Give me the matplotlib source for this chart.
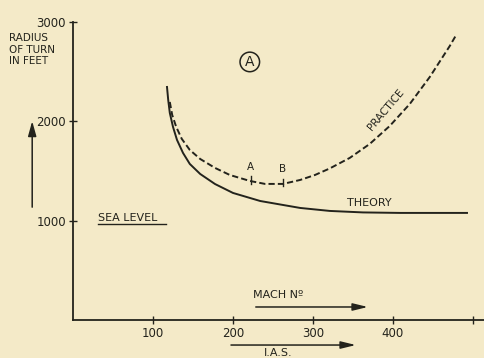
import matplotlib.pyplot as plt

# (x = I.A.S., y = radius of turn in feet)
theory_x = [117.5, 119, 121, 125, 130, 137.5, 146, 159, 177.5, 200, 234, 262.5, 284, 321, 362.5, 409, 492.5]
theory_y = [2346, 2216, 2085, 1944, 1813, 1682, 1571, 1470, 1369, 1279, 1198, 1158, 1128, 1098, 1083, 1078, 1078]

practice_x = [121, 124, 129, 136, 146, 159, 177.5, 196, 221, 240, 262.5, 284, 302.5, 321,
              346, 371, 396, 421, 446, 471, 479]
practice_y = [2195, 2064, 1944, 1823, 1712, 1621, 1531, 1460, 1400, 1370, 1370, 1410, 1460, 1526,
              1632, 1773, 1954, 2175, 2447, 2759, 2870]

points = ['A', 'B']
points_x = [222, 262]
points_y = [1398, 1370]

x_ticks = [100, 200, 300, 400, 500]
x_labels = ['100', '200', '300', '400', '']
y_ticks = [1000, 2000, 3000]
y_labels = ['1000', '2000', '3000']

bg = '#f4eac8'
ink = '#23231c'

fig = plt.figure(figsize=(4.85, 3.58), dpi=100, facecolor=bg)
ax = fig.add_axes([73/485, 38/358, 412/485, 298/358])
ax.set_facecolor(bg)
ax.set_xlim(0, 515)
ax.set_ylim(0, 3000)

for s in ['top', 'right']:
    ax.spines[s].set_visible(False)
for s in ['left', 'bottom']:
    ax.spines[s].set_color(ink)
    ax.spines[s].set_linewidth(1.3)

ax.set_xticks(x_ticks)
ax.set_xticklabels(x_labels)
ax.set_yticks(y_ticks)
ax.set_yticklabels(y_labels)
ax.tick_params(direction='inout', length=6, width=1.0, color=ink,
               labelcolor=ink, labelsize=8.5, pad=2)

# curves
ax.plot(theory_x, theory_y, '-', color=ink, lw=1.4, solid_joinstyle='round')
ax.plot(practice_x, practice_y, color=ink, lw=1.4, dashes=(3.2, 1.6))
for lab, px, py in zip(points, points_x, points_y):
    ax.plot([px, px], [py - 25, py + 50], color=ink, lw=1.0)
    ax.text(px, py + 95, lab, ha='center', va='bottom', fontsize=7.5, color=ink)

ax.text(371, 1180, 'THEORY', ha='center', va='center', fontsize=8, color=ink)
ax.text(391, 2115, 'PRACTICE', ha='center', va='center', fontsize=7.5,
        rotation=50, color=ink)

ax.text(221, 2598, 'A', ha='center', va='center', fontsize=10, color=ink,
        bbox=dict(boxstyle='circle,pad=0.2', fc='none', ec=ink, lw=1.1))

ax.text(31, 1027, 'SEA LEVEL', ha='left', va='center', fontsize=8, color=ink)
ax.plot([31, 116], [965, 965], color=ink, lw=1.0)

# y axis caption and arrow
ax.text(-80, 2885, 'RADIUS\nOF TURN\nIN FEET', ha='left', va='top', fontsize=7.5,
        color=ink, linespacing=1.15, clip_on=False)
ax.annotate('', xy=(-51, 2030), xytext=(-51, 1108), annotation_clip=False,
            arrowprops=dict(arrowstyle='-|>,head_length=0.9,head_width=0.25',
                            color=ink, lw=1.1))

# mach and IAS arrows
ax.text(225, 250, 'MACH Nº', ha='left', va='center', fontsize=8, color=ink)
ax.annotate('', xy=(372, 131), xytext=(225, 131), annotation_clip=False,
            arrowprops=dict(arrowstyle='-|>,head_length=0.9,head_width=0.22',
                            color=ink, lw=1.1))
ax.text(257, -332, 'I.A.S.', ha='center', va='center', fontsize=8, color=ink,
        clip_on=False)
ax.annotate('', xy=(357, -252), xytext=(194, -252), annotation_clip=False,
            arrowprops=dict(arrowstyle='-|>,head_length=0.9,head_width=0.22',
                            color=ink, lw=1.1))

fig.savefig('out.png', dpi=100, facecolor=bg)
